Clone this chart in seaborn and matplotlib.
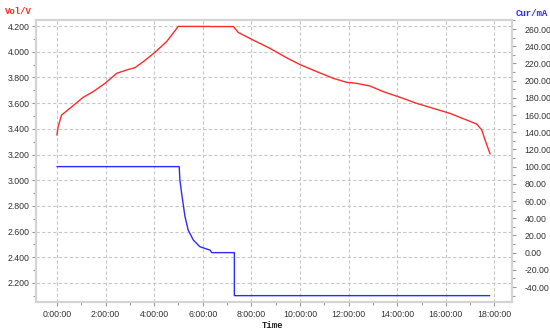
import numpy as np
import pandas as pd
import matplotlib
matplotlib.use("Agg")
import matplotlib.pyplot as plt
import seaborn as sns
from matplotlib.ticker import MultipleLocator, FuncFormatter

# Data (time in hours)
vol_time = [0.0, 0.05, 0.19, 0.53, 1.08, 1.49, 1.98, 2.46, 2.87, 3.21, 3.55, 4.03, 4.51, 4.99,
            6.30, 6.32, 7.26, 7.46, 8.08, 8.77, 9.45, 10.0, 10.69, 11.37, 11.92, 12.33, 12.88,
            13.43, 14.12, 14.80, 15.49, 16.17, 16.86, 17.27, 17.48, 17.61, 17.82]
vol_values = [3.352, 3.416, 3.507, 3.559, 3.645, 3.689, 3.754, 3.832, 3.858, 3.876, 3.922, 3.995,
              4.078, 4.197, 4.197, 4.196, 4.196, 4.150, 4.090, 4.026, 3.953, 3.900, 3.845, 3.793,
              3.762, 3.754, 3.733, 3.689, 3.645, 3.598, 3.559, 3.520, 3.468, 3.437, 3.390,
              3.313, 3.204]

cur_time = [0.0, 5.03, 5.06, 5.13, 5.20, 5.27, 5.40, 5.61, 5.88, 6.16, 6.30, 6.37, 7.30, 7.30, 17.80]
cur_values = [100.0, 100.0, 84.4, 69.0, 55.3, 41.7, 26.3, 14.7, 6.9, 4.2, 3.0, 0.0, 0.0, -50.0, -50.0]

x_ticks = list(range(0, 19, 2))
x_tick_labels = [f"{h}:00:00" for h in x_ticks]

vol_df = pd.DataFrame({"t": vol_time, "v": vol_values})
cur_df = pd.DataFrame({"t": cur_time, "i": cur_values})

sns.set_style("white")
plt.rcParams['font.family'] = ['Liberation Sans', 'DejaVu Sans']

fig = plt.figure(figsize=(5.5, 3.31), dpi=100)
ax = fig.add_axes([36/550, 1-302/331, (512-36)/550, (302-20)/331])
ax2 = ax.twinx()

sns.lineplot(data=vol_df, x="t", y="v", ax=ax, color="#ff2a2a", linewidth=1.0,
             estimator=None, sort=False)
sns.lineplot(data=cur_df, x="t", y="i", ax=ax2, color="#2b2bff", linewidth=1.0,
             estimator=None, sort=False)

ax.set_xlim(-0.86, 18.72)
ax.set_ylim(2.052, 4.247)
ax2.set_ylim(-57.4, 270.5)

ax.set_xticks(x_ticks)
ax.set_xticklabels(x_tick_labels)
ax.xaxis.set_minor_locator(MultipleLocator(1))
ax.yaxis.set_major_locator(MultipleLocator(0.2))
ax.yaxis.set_minor_locator(MultipleLocator(0.1))
ax.yaxis.set_major_formatter(FuncFormatter(lambda v, p: f"{v:.3f}"))
ax2.yaxis.set_major_locator(MultipleLocator(20))
ax2.yaxis.set_minor_locator(MultipleLocator(10))
ax2.yaxis.set_major_formatter(FuncFormatter(lambda v, p: f"{v:.2f}"))

ax.grid(True, which="major", color="#c8c8c8", linestyle=(0, (3, 2)), linewidth=0.8)
ax2.grid(False)
ax.set_axisbelow(True)

gray = "#d4d4d4"
for a in (ax, ax2):
    for s in a.spines.values():
        s.set_color(gray)
        s.set_linewidth(1.5)
    a.set_xlabel("")
    a.set_ylabel("")

ax.tick_params(axis="both", which="major", length=3, width=0.8, color="#999999",
               labelsize=6.3, labelcolor="#333333", pad=1.5, direction="out")
ax.tick_params(axis="both", which="minor", length=2, width=0.8, color="#999999", direction="out")
ax.tick_params(axis="y", left=True, which="both")
ax.tick_params(axis="x", bottom=True, which="both", pad=3)
ax2.tick_params(axis="y", which="major", length=3, width=0.8, color="#999999",
                labelsize=6.3, labelcolor="#333333", pad=6, right=True, direction="out")
ax2.tick_params(axis="y", which="minor", length=2, width=0.8, color="#999999", right=True,
                direction="out")

fig.text(5/550, 1-12/331, "Vol/V", color="#ff2a2a", fontsize=6.5,
         family=["Liberation Mono", "DejaVu Sans Mono"], fontweight="bold", va="center", ha="left")
fig.text(516/550, 1-13/331, "Cur/mA", color="#2b2bff", fontsize=6.5,
         family=["Liberation Mono", "DejaVu Sans Mono"], fontweight="bold", va="center", ha="left")
fig.text(273/550, 1-325/331, "Time", color="#222222", fontsize=6.5,
         family=["Liberation Mono", "DejaVu Sans Mono"], fontweight="bold", va="center", ha="center")

fig.savefig("out.png", dpi=100)
